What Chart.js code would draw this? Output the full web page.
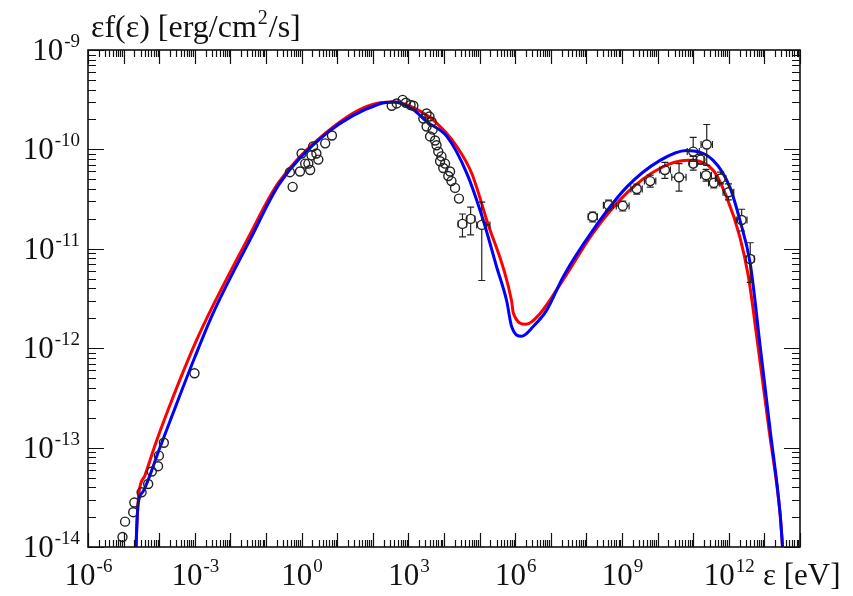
<!DOCTYPE html>
<html>
<head>
<meta charset="utf-8">
<script src="https://cdn.jsdelivr.net/npm/chart.js@4.4.1/dist/chart.umd.min.js"></script>
<style>
html, body { margin: 0; padding: 0; background: #fff; }
#wrap { width: 853px; height: 596px; }
</style>
</head>
<body>
<div id="wrap"><canvas id="sed" width="853" height="596"></canvas></div>
<script>
// model curves, energy in eV, flux in erg/cm2/s
const redE = [2.14e-5, 2.24e-5, 2.4e-5, 2.69e-5, 3.98e-5, 7.94e-5, 1.78e-4, 3.98e-4, 1e-3, 3.16e-3, 2.95e-2, 0.219, 4.57, 158, 400, 1380, 5.6e3, 2.29e4, 6.0e4, 1.58e5, 7.9e5, 8.9e5, 2.0e6, 5.0e6, 2.24e7, 1.55e8, 1.35e9, 1.17e10, 7.2e10, 3.63e11, 8.7e11, 2.04e12, 3.55e12, 6.6e12, 1.35e13, 2.75e13, 3.24e13, 3.55e13];
const redF = [6.3e-15, 1e-14, 1.9e-14, 3.47e-14, 5.25e-14, 1.1e-13, 2.4e-13, 5.0e-13, 1.1e-12, 2.63e-12, 1.23e-11, 4.57e-11, 1.45e-10, 2.95e-10, 3.0e-10, 2.63e-10, 1.9e-10, 1.07e-10, 5.75e-11, 1.95e-11, 3.0e-12, 2.24e-12, 1.74e-12, 2.24e-12, 4.9e-12, 1.45e-11, 3.63e-11, 6.46e-11, 7.76e-11, 6.17e-11, 3.31e-11, 1.32e-11, 5.25e-12, 1.05e-12, 1.51e-13, 2.19e-14, 1e-14, 6.3e-15];
const blueE = [2.14e-5, 2.24e-5, 2.34e-5, 2.57e-5, 3.55e-5, 1e-4, 3.16e-4, 1e-3, 3.16e-3, 3.55e-2, 0.245, 5.0, 158, 400, 1380, 3.24e3, 1.2e4, 4.37e4, 1.26e5, 3.0e5, 5.75e5, 7.9e5, 1.51e6, 3.24e6, 7.6e6, 2.24e7, 1.55e8, 1.35e9, 1.17e10, 6.46e10, 3.63e11, 1.07e12, 2.04e12, 4.0e12, 7.6e12, 1.45e13, 2.75e13, 3.24e13, 3.55e13];
const blueF = [6.3e-15, 1e-14, 1.58e-14, 2.75e-14, 3.63e-14, 9.55e-14, 2.82e-13, 8.1e-13, 2.19e-12, 1.23e-11, 4.57e-11, 1.45e-10, 2.88e-10, 3.0e-10, 2.5e-10, 1.9e-10, 1.35e-10, 5.75e-11, 1.95e-11, 6.6e-12, 3.0e-12, 1.66e-12, 1.32e-12, 1.66e-12, 2.4e-12, 5.25e-12, 1.55e-11, 4.17e-11, 7.76e-11, 9.77e-11, 7.76e-11, 4.17e-11, 1.95e-11, 7.1e-12, 1.05e-12, 1.51e-13, 2.19e-14, 1e-14, 6.3e-15];

// observed points without error bars
const radioE = [9.3e-6, 1.1e-5, 1.86e-5, 2.0e-5, 3.2e-5, 4.9e-5, 6.2e-5, 9.3e-5, 9.8e-5, 1.35e-4, 9.8e-4];
const radioF = [1.26e-14, 1.8e-14, 2.24e-14, 2.8e-14, 3.55e-14, 4.3e-14, 5.75e-14, 6.5e-14, 8.3e-14, 1.12e-13, 5.6e-13];
const opticalE = [0.56, 0.47, 0.9, 1.0, 1.74, 1.55, 1.9, 2.1, 2.6, 2.95, 1.26, 4.6, 7.1];
const opticalF = [4.2e-11, 5.9e-11, 6.0e-11, 9.1e-11, 6.2e-11, 7.2e-11, 8.7e-11, 1.07e-10, 9.1e-11, 7.9e-11, 7.2e-11, 1.15e-10, 1.38e-10];
const xrayE = [340, 470, 690, 850, 1150, 1380, 3240, 3900, 2630, 4470, 3240, 4800, 4070, 5620, 6170, 6900, 8500, 7760, 10700, 9550, 14800, 13200, 16200, 20400, 26300];
const xrayF = [2.75e-10, 2.9e-10, 3.15e-10, 2.95e-10, 2.8e-10, 2.75e-10, 2.3e-10, 2.14e-10, 2.04e-10, 1.9e-10, 1.7e-10, 1.58e-10, 1.35e-10, 1.23e-10, 1.1e-10, 9.5e-11, 8.5e-11, 7.6e-11, 7.2e-11, 6.5e-11, 6.0e-11, 5.4e-11, 4.8e-11, 4.1e-11, 3.2e-11];

// hard x-ray and gamma-ray points with error bars
const barE   = [3.3e4, 5.6e4, 1.15e5, 1.5e8, 4.2e8, 1.05e9, 2.6e9, 6.2e9, 1.6e10, 4.0e10, 1.0e11, 1.0e11, 1.6e11, 2.4e11, 2.3e11, 3.8e11, 5.9e11, 9.8e11, 2.3e12, 4.0e12];
const barF   = [1.78e-11, 2.0e-11, 1.74e-11, 2.1e-11, 2.75e-11, 2.7e-11, 4.0e-11, 4.8e-11, 6.2e-11, 5.25e-11, 9.5e-11, 7.2e-11, 7.9e-11, 1.12e-10, 5.5e-11, 4.6e-11, 5.1e-11, 3.7e-11, 1.95e-11, 7.9e-12];
const barElo = [2.5e4, 4.4e4, 8.3e4, 1.12e8, 3.0e8, 6.9e8, 1.78e9, 4.27e9, 1.15e10, 2.5e10, 6.8e10, 7.9e10, 1.26e11, 1.66e11, 1.62e11, 2.7e11, 4.2e11, 6.9e11, 1.62e12, 3.0e12];
const barEhi = [4.3e4, 7.4e4, 1.95e5, 2.04e8, 5.75e8, 1.58e9, 3.7e9, 8.9e9, 2.29e10, 6.3e10, 1.48e11, 1.26e11, 2.0e11, 3.47e11, 3.24e11, 5.4e11, 8.3e11, 1.38e12, 3.24e12, 5.2e12];
const barFlo = [1.32e-11, 1.38e-11, 4.8e-12, 1.86e-11, 2.45e-11, 2.4e-11, 3.55e-11, 4.17e-11, 5.1e-11, 3.8e-11, 7.6e-11, 6.2e-11, 7.1e-11, 6.9e-11, 4.8e-11, 4.1e-11, 4.5e-11, 3.1e-11, 1.51e-11, 4.6e-12];
const barFhi = [2.24e-11, 2.63e-11, 2.95e-11, 2.34e-11, 3.09e-11, 3.02e-11, 4.47e-11, 5.5e-11, 7.4e-11, 7.2e-11, 1.32e-10, 8.5e-11, 8.9e-11, 1.78e-10, 6.3e-11, 5.1e-11, 5.9e-11, 4.5e-11, 2.5e-11, 1.15e-11];

// axis ranges and labelled decades
const xMin = 1e-6, xMax = 1e14;
const yMin = 1e-14, yMax = 1e-9;
const xLabelExp = [-6, -3, 0, 3, 6, 9, 12];
const yLabelExp = [-9, -10, -11, -12, -13, -14];

const SERIF = '"Liberation Serif", "Times New Roman", serif';
const R = 4.5; // marker radius

function pts(xs, ys) {
    return xs.map((v, i) => ({ x: v, y: ys[i] }));
}

function drawPow(ctx, exp, x, base, align) {
    ctx.font = '31px ' + SERIF;
    const w1 = ctx.measureText('10').width;
    ctx.font = '19px ' + SERIF;
    const w2 = ctx.measureText(String(exp)).width;
    const left = align === 'right' ? x - w1 - w2 : x - (w1 + w2) / 2;
    ctx.font = '31px ' + SERIF;
    ctx.fillText('10', left, base);
    ctx.font = '19px ' + SERIF;
    ctx.fillText(String(exp), left + w1 + 1, base - 13);
}

// error bars with small caps, stopping at the marker edge
const errorBars = {
    id: 'errorBars',
    afterDatasetsDraw(chart) {
        const { ctx, scales: { x, y } } = chart;
        ctx.save();
        ctx.strokeStyle = '#222';
        ctx.lineWidth = 1.2;
        ctx.beginPath();
        for (let i = 0; i < barE.length; i++) {
            const px = x.getPixelForValue(barE[i]);
            const py = y.getPixelForValue(barF[i]);
            const x0 = x.getPixelForValue(barElo[i]), x1 = x.getPixelForValue(barEhi[i]);
            const y0 = y.getPixelForValue(barFlo[i]), y1 = y.getPixelForValue(barFhi[i]);
            if (px - x0 > R) { ctx.moveTo(x0, py); ctx.lineTo(px - R, py); }
            if (x1 - px > R) { ctx.moveTo(px + R, py); ctx.lineTo(x1, py); }
            ctx.moveTo(x0, py - 3.5); ctx.lineTo(x0, py + 3.5);
            ctx.moveTo(x1, py - 3.5); ctx.lineTo(x1, py + 3.5);
            if (y0 - py > R) { ctx.moveTo(px, y0); ctx.lineTo(px, py + R); }
            if (py - y1 > R) { ctx.moveTo(px, py - R); ctx.lineTo(px, y1); }
            ctx.moveTo(px - 3.5, y0); ctx.lineTo(px + 3.5, y0);
            ctx.moveTo(px - 3.5, y1); ctx.lineTo(px + 3.5, y1);
        }
        ctx.stroke();
        ctx.restore();
    }
};

// frame, inward ticks on all four sides, and the labels
const frame = {
    id: 'frame',
    afterDraw(chart) {
        const { ctx, chartArea: a, scales: { x, y } } = chart;
        ctx.save();
        ctx.strokeStyle = '#111';
        ctx.lineWidth = 1.2;
        ctx.beginPath();
        for (let d = Math.log10(xMin); d < Math.log10(xMax) + 0.5; d++) {
            for (let m = 1; m < 10; m++) {
                const v = m * Math.pow(10, d);
                if (v > xMax * 1.0001) break;
                const px = Math.round(x.getPixelForValue(v)) + 0.5;
                const len = m === 1 ? 14 : 7;
                ctx.moveTo(px, a.bottom); ctx.lineTo(px, a.bottom - len);
                ctx.moveTo(px, a.top); ctx.lineTo(px, a.top + len);
            }
        }
        for (let d = Math.log10(yMin); d < Math.log10(yMax) + 0.5; d++) {
            for (let m = 1; m < 10; m++) {
                const v = m * Math.pow(10, d);
                if (v > yMax * 1.0001) break;
                const py = Math.round(y.getPixelForValue(v)) + 0.5;
                const len = m === 1 ? 16 : 8;
                ctx.moveTo(a.left, py); ctx.lineTo(a.left + len, py);
                ctx.moveTo(a.right, py); ctx.lineTo(a.right - len, py);
            }
        }
        ctx.stroke();
        ctx.lineWidth = 1.6;
        ctx.strokeRect(a.left, a.top, a.right - a.left, a.bottom - a.top);

        ctx.fillStyle = '#111';
        ctx.textAlign = 'left';
        ctx.textBaseline = 'alphabetic';
        xLabelExp.forEach(e => drawPow(ctx, e, x.getPixelForValue(Math.pow(10, e)), 585, 'center'));
        yLabelExp.forEach(e => drawPow(ctx, e, 79, y.getPixelForValue(Math.pow(10, e)) + 10, 'right'));

        ctx.font = '31px ' + SERIF;
        ctx.fillText('\u03b5 [eV]', 763, 585);

        const t1 = '\u03b5f(\u03b5) [erg/cm';
        ctx.font = '32px ' + SERIF;
        ctx.fillText(t1, 91, 37);
        let w = ctx.measureText(t1).width;
        ctx.font = '20px ' + SERIF;
        ctx.fillText('2', 91 + w + 1, 24);
        w += ctx.measureText('2').width + 2;
        ctx.font = '32px ' + SERIF;
        ctx.fillText('/s]', 91 + w, 37);
        ctx.restore();
    }
};

const circleStyle = {
    type: 'scatter',
    showLine: false,
    pointStyle: 'circle',
    pointRadius: R,
    pointBorderWidth: 1.4,
    pointBorderColor: '#222',
    pointBackgroundColor: 'rgba(255,255,255,0)',
    order: 0
};

new Chart(document.getElementById('sed'), {
    type: 'line',
    data: {
        datasets: [
            Object.assign({ label: 'radio', data: pts(radioE, radioF) }, circleStyle),
            Object.assign({ label: 'optical', data: pts(opticalE, opticalF) }, circleStyle),
            Object.assign({ label: 'x-ray', data: pts(xrayE, xrayF) }, circleStyle),
            Object.assign({ label: 'with errors', data: pts(barE, barF) }, circleStyle),
            {
                label: 'model blue',
                data: pts(blueE, blueF),
                borderColor: '#0000ff',
                borderWidth: 3,
                pointRadius: 0,
                cubicInterpolationMode: 'monotone',
                order: 1
            },
            {
                label: 'model red',
                data: pts(redE, redF),
                borderColor: '#ff0000',
                borderWidth: 3,
                pointRadius: 0,
                cubicInterpolationMode: 'monotone',
                order: 2
            }
        ]
    },
    options: {
        responsive: false,
        animation: false,
        layout: { padding: { left: 88, top: 50, right: 53, bottom: 49 } },
        plugins: {
            legend: { display: false },
            tooltip: { enabled: false }
        },
        scales: {
            x: { type: 'logarithmic', min: xMin, max: xMax, display: false },
            y: { type: 'logarithmic', min: yMin, max: yMax, display: false }
        }
    },
    plugins: [errorBars, frame]
});
</script>
</body>
</html>
